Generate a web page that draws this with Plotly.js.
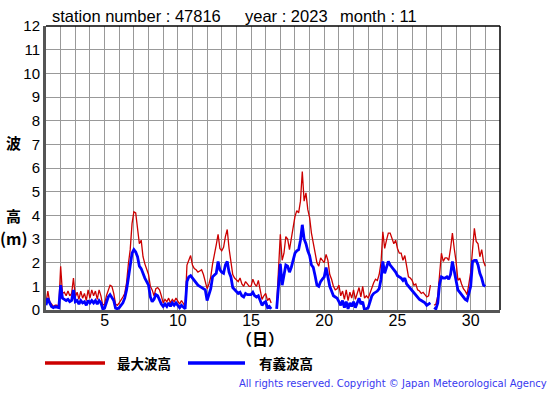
<!DOCTYPE html>
<html>
<head>
<meta charset="utf-8">
<script src="https://cdn.plot.ly/plotly-3.0.1.min.js"></script>
<style>html,body{margin:0;padding:0;background:#fff;}#chart{width:555px;height:395px;}</style>
</head>
<body>
<div id="chart"></div>
<script>
// ---- data (3-hourly readings, November 2023, station 47816) ----
const startDay = 1;
const stepDay = 1 / 8;
const maxWave = [ // 最大波高 (m)
  0.3, 0.8, 0.35, 0.25, 0.15, 0.2, 0.2, 0.15,
  1.85, 0.7, 0.75, 0.6, 0.8, 0.6, 0.7, 1.35,
  0.55, 0.75, 0.45, 0.8, 0.5, 0.7, 0.4, 0.85,
  0.5, 0.85, 0.6, 0.8, 0.45, 0.85, 0.6, 0.2,
  0.25, 0.6, 0.85, 1.05, 1.0, 0.7, 0.25, 0.2,
  0.3, 0.4, 0.55, 0.7, 1.15, 1.95, 2.55, 3.65,
  4.15, 4.1, 3.4, 2.8, 2.95, 2.25, 1.95, 1.7,
  1.5, 1.0, 0.85, 0.6, 0.9, 0.95, 0.85, 0.6,
  0.3, 0.45, 0.35, 0.5, 0.3, 0.45, 0.35, 0.5,
  0.35, 0.25, 0.4, 0.25, 0.15, 1.9, 2.1, 2.3,
  1.9, 1.75, 1.7, 1.6, 1.65, 1.7, 1.5, 1.25,
  0.9, 1.1, 1.4, 1.95, 2.3, 2.75, 3.2, 2.6,
  2.5, 2.65, 3.1, 3.4, 2.6, 2.1, 1.5, 1.35,
  1.25, 1.2, 1.35, 1.1, 1.0, 1.2, 1.1, 1.0,
  1.0, 1.3, 1.1, 1.0, 1.25, 0.85, 0.45, 0.6,
  0.7, 0.4, 0.5, 0.3, null, null, 0.2, 1.6,
  3.2, 2.1, 2.4, 3.1, 3.0, 2.55, 3.0, 3.55,
  3.95, 4.2, 4.1, 4.6, 5.85, 4.6, 4.95, 4.25,
  3.9, 3.25, 2.8, 2.4, 2.0, 1.85, 2.2, 2.1,
  2.0, 2.35, 2.1, 1.5, 1.3, 1.0, 0.85, 0.9,
  1.05, 0.6, 0.8, 0.45, 0.85, 0.4, 0.75, 0.5,
  0.85, 0.45, 0.7, 0.95, 0.55, 1.0, 0.5, 0.6,
  0.5, 0.75, 1.0, 1.15, 1.3, 1.25, 1.5, 2.0,
  3.3, 2.6, 2.95, 3.25, 3.25, 3.0, 2.8, 2.95,
  2.6, 2.4, 2.4, 2.1, 2.3, 1.85, 1.4, 1.35,
  1.25, 1.05, 1.1, 0.85, 0.8, 0.7, 0.75, 0.65,
  0.55, 0.6, 1.05, null, 0.2, 0.25, 0.6, 1.7,
  2.4, 2.05, 2.2, 2.2, 2.1, 2.6, 3.25, 2.6,
  2.05, 1.25, 1.35, 1.1, 0.9, 0.8, 0.65, 1.1,
  1.6, 2.55, 3.45, 2.9, 2.8, 2.25, 2.55, 2.05,
  1.85
];
const sigWave = [ // 有義波高 (m)
  0.2, 0.5, 0.3, 0.15, 0.1, 0.15, 0.12, 0.1,
  1.05, 0.5, 0.45, 0.4, 0.45, 0.35, 0.4, 0.85,
  0.35, 0.4, 0.25, 0.4, 0.3, 0.35, 0.2, 0.4,
  0.3, 0.4, 0.3, 0.4, 0.25, 0.4, 0.3, 0.05,
  0.08, 0.35, 0.55, 0.65, 0.55, 0.4, 0.08, 0.05,
  0.1, 0.2, 0.3, 0.5, 0.85, 1.35, 1.85, 2.4,
  2.55, 2.45, 2.25, 1.85, 1.75, 1.5, 1.35, 1.2,
  1.05, 0.55, 0.35, 0.45, 0.65, 0.6, 0.4, 0.25,
  0.15, 0.25, 0.15, 0.3, 0.15, 0.3, 0.2, 0.3,
  0.2, 0.1, 0.2, 0.1, 0.05, 1.2, 1.4, 1.45,
  1.35, 1.2, 1.15, 1.05, 1.0, 0.95, 0.9, 0.85,
  0.4, 0.7, 0.9, 1.4, 1.5, 1.55, 2.05, 1.7,
  1.6, 1.55, 1.9, 2.05, 1.6, 1.4, 0.95, 0.85,
  0.75, 0.7, 0.75, 0.6, 0.55, 0.7, 0.65, 0.65,
  0.65, 0.75, 0.6, 0.55, 0.6, 0.4, 0.2, 0.3,
  0.35, 0.1, 0.15, 0.05, null, null, 0.05, 1.2,
  1.95, 1.05, 1.5, 1.9, 1.85, 1.6, 1.8, 2.1,
  2.4, 2.5, 2.55, 2.95, 3.6, 3.0, 2.8, 2.5,
  2.3, 1.9, 1.8, 1.45, 1.05, 1.0, 1.2, 1.3,
  1.4, 1.8, 1.45, 1.0, 0.8, 0.6, 0.55, 0.5,
  0.35, 0.2, 0.4, 0.1, 0.35, 0.05, 0.3, 0.15,
  0.35, 0.1, 0.3, 0.5, 0.25, 0.35, 0.0, 0.05,
  0.1, 0.35, 0.6, 0.7, 0.75, 0.8, 0.9, 1.3,
  2.05, 1.55, 1.8, 2.05, 1.9, 1.8, 1.75, 1.6,
  1.45, 1.4, 1.35, 1.25, 1.35, 1.1, 1.0, 0.9,
  0.85, 0.7, 0.65, 0.5, 0.45, 0.4, 0.35, 0.3,
  0.2, 0.25, 0.3, null, 0.1, 0.05, 0.3, 1.1,
  1.4, 1.35, 1.35, 1.4, 1.3, 1.5, 2.05, 1.7,
  1.25, 0.85, 0.75, 0.6, 0.55, 0.45, 0.4, 0.7,
  1.0, 2.05, 2.1, 2.1, 1.9, 1.55, 1.35, 1.05,
  1.0
];
const xTickLabels = ['5', '10', '15', '20', '25', '30'];
const yTickLabels = ['0','1','2','3','4','5','6','7','8','9','10','11','12'];
const seriesNames = ['最大波高', '有義波高'];
const titleParts = ['station number : 47816', 'year : 2023', 'month : 11'];

// ---- build ----
const times = maxWave.map((_, i) => startDay + i * stepDay);
const gridDays = [];
for (let d = 1; d <= 32; d++) gridDays.push(d);
const gridText = gridDays.map(d => (xTickLabels.indexOf(String(d)) >= 0 ? String(d) : ''));

const L = 46, T = 26, W = 454, H = 284;
const px = x => (x - L) / W;
const py = y => (T + H - y) / H;

const latin = 'Liberation Sans, Arial, sans-serif';
const cjk = 'Noto Sans CJK JP, sans-serif';

const traces = [
  {x: times, y: maxWave, name: seriesNames[0], type: 'scatter', mode: 'lines',
   line: {color: '#cc0000', width: 1.3}, connectgaps: false, hoverinfo: 'skip'},
  {x: times, y: sigWave, name: seriesNames[1], type: 'scatter', mode: 'lines',
   line: {color: '#0000ff', width: 2.8}, connectgaps: false, hoverinfo: 'skip'}
];

const ann = [
  {text: titleParts[0], x: px(50), y: py(16), xanchor: 'left'},
  {text: titleParts[1], x: px(243), y: py(16), xanchor: 'left'},
  {text: titleParts[2], x: px(338), y: py(16), xanchor: 'left'}
].map(a => Object.assign(a, {xref: 'paper', yref: 'paper', yanchor: 'middle', showarrow: false,
  font: {family: latin, size: 16.5, color: '#000'}}));

const cjkAnn = [
  {text: '波', x: px(13), y: py(142), size: 15},
  {text: '高', x: px(13), y: py(215), size: 15},
  {text: '(m)', x: px(14), y: py(238), size: 16},
  {text: '（日）', x: px(260), y: py(338), size: 16}
].map(a => ({text: '<b>' + a.text + '</b>', x: a.x, y: a.y, xref: 'paper', yref: 'paper',
  xanchor: 'center', yanchor: 'middle', showarrow: false,
  font: {family: cjk, size: a.size, color: '#000'}}));

const legAnn = [
  {text: '<b>' + seriesNames[0] + '</b>', x: px(115)},
  {text: '<b>' + seriesNames[1] + '</b>', x: px(257)}
].map(a => Object.assign(a, {y: py(363), xref: 'paper', yref: 'paper', xanchor: 'left',
  yanchor: 'middle', showarrow: false, font: {family: cjk, size: 13.5, color: '#000'}}));

const copyAnn = {text: 'All rights reserved. Copyright © Japan Meteorological Agency',
  x: px(549), y: py(384), xref: 'paper', yref: 'paper', xanchor: 'right', yanchor: 'middle',
  showarrow: false, font: {family: 'DejaVu Sans, sans-serif', size: 10, color: '#3838f0'}};

const shapes = [
  {type: 'line', xref: 'paper', yref: 'paper', x0: 0, x1: 1, y0: 1, y1: 1, line: {color: '#000', width: 1.5}},
  {type: 'line', xref: 'paper', yref: 'paper', x0: 1, x1: 1, y0: 0, y1: 1, line: {color: '#000', width: 1.5}},
  {type: 'line', xref: 'paper', yref: 'paper', x0: px(45), x1: px(105), y0: py(363), y1: py(363), line: {color: '#cc0000', width: 3.5}},
  {type: 'line', xref: 'paper', yref: 'paper', x0: px(188), x1: px(245), y0: py(363), y1: py(363), line: {color: '#0000ff', width: 3.5}}
];

const layout = {
  width: 555, height: 395,
  margin: {l: L, r: 555 - L - W, t: T, b: 395 - T - H, pad: 0},
  paper_bgcolor: '#fff', plot_bgcolor: '#fff',
  showlegend: false,
  xaxis: {range: [1, 32], tickmode: 'array', tickvals: gridDays, ticktext: gridText,
    showgrid: true, gridcolor: '#999', gridwidth: 1, zeroline: false,
    showline: true, linecolor: '#555', linewidth: 3, ticks: '', ticklabelstandoff: -6,
    tickfont: {family: latin, size: 16, color: '#000'}, fixedrange: true},
  yaxis: {range: [0, 12], tickmode: 'array', tickvals: yTickLabels.map(Number), ticktext: yTickLabels,
    showgrid: true, gridcolor: '#999', gridwidth: 1, zeroline: false,
    showline: true, linecolor: '#555', linewidth: 3, ticks: '',
    tickfont: {family: latin, size: 15, color: '#000'}, fixedrange: true},
  annotations: ann.concat(cjkAnn, legAnn, [copyAnn]),
  shapes: shapes
};

Plotly.newPlot('chart', traces, layout, {staticPlot: true, displayModeBar: false});
</script>
</body>
</html>
